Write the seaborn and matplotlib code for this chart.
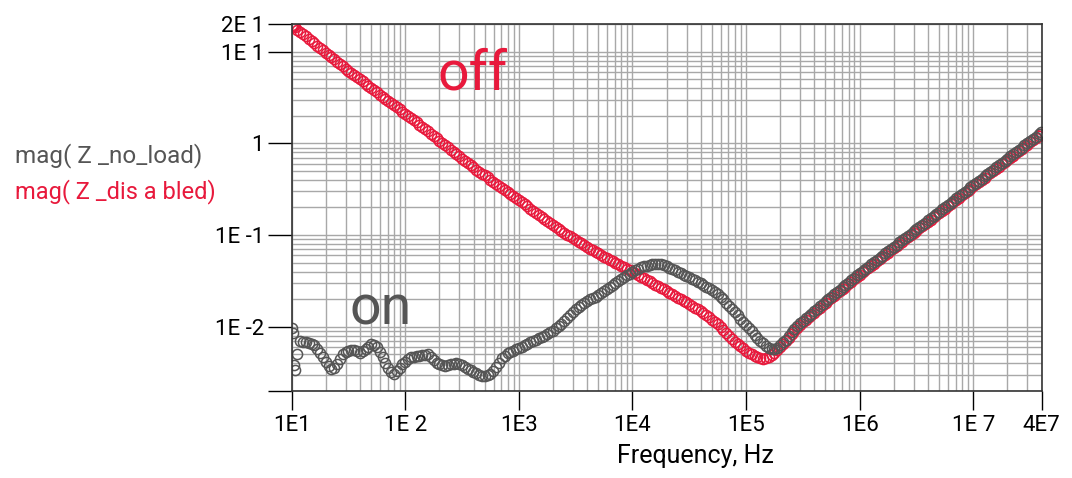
import numpy as np
import pandas as pd
import seaborn as sns
import matplotlib.pyplot as plt
from matplotlib.ticker import LogLocator, NullFormatter

# log10(frequency / Hz) of each sweep point
log_freq = [
    1.000, 1.008, 1.016,
    1.025, 1.050, 1.075, 1.100, 1.125, 1.150, 1.175, 1.200, 1.225, 1.250,
    1.275, 1.300, 1.325, 1.350, 1.375, 1.400, 1.425, 1.450, 1.475, 1.500,
    1.525, 1.550, 1.575, 1.600, 1.625, 1.650, 1.675, 1.700, 1.725, 1.750,
    1.775, 1.800, 1.825, 1.850, 1.875, 1.900, 1.925, 1.950, 1.975, 2.000,
    2.025, 2.050, 2.075, 2.100, 2.125, 2.150, 2.175, 2.200, 2.225, 2.250,
    2.275, 2.300, 2.325, 2.350, 2.375, 2.400, 2.425, 2.450, 2.475, 2.500,
    2.525, 2.550, 2.575, 2.600, 2.625, 2.650, 2.675, 2.700, 2.725, 2.750,
    2.775, 2.800, 2.825, 2.850, 2.875, 2.900, 2.925, 2.950, 2.975, 3.000,
    3.025, 3.050, 3.075, 3.100, 3.125, 3.150, 3.175, 3.200, 3.225, 3.250,
    3.275, 3.300, 3.325, 3.350, 3.375, 3.400, 3.425, 3.450, 3.475, 3.500,
    3.525, 3.550, 3.575, 3.600, 3.625, 3.650, 3.675, 3.700, 3.725, 3.750,
    3.775, 3.800, 3.825, 3.850, 3.875, 3.900, 3.925, 3.950, 3.975, 4.000,
    4.025, 4.050, 4.075, 4.100, 4.125, 4.150, 4.175, 4.200, 4.225, 4.250,
    4.275, 4.300, 4.325, 4.350, 4.375, 4.400, 4.425, 4.450, 4.475, 4.500,
    4.525, 4.550, 4.575, 4.600, 4.625, 4.650, 4.675, 4.700, 4.725, 4.750,
    4.775, 4.800, 4.825, 4.850, 4.875, 4.900, 4.925, 4.950, 4.975, 5.000,
    5.025, 5.050, 5.075, 5.100, 5.125, 5.150, 5.175, 5.200, 5.225, 5.250,
    5.275, 5.300, 5.325, 5.350, 5.375, 5.400, 5.425, 5.450, 5.475, 5.500,
    5.525, 5.550, 5.575, 5.600, 5.625, 5.650, 5.675, 5.700, 5.725, 5.750,
    5.775, 5.800, 5.825, 5.850, 5.875, 5.900, 5.925, 5.950, 5.975, 6.000,
    6.025, 6.050, 6.075, 6.100, 6.125, 6.150, 6.175, 6.200, 6.225, 6.250,
    6.275, 6.300, 6.325, 6.350, 6.375, 6.400, 6.425, 6.450, 6.475, 6.500,
    6.525, 6.550, 6.575, 6.600, 6.625, 6.650, 6.675, 6.700, 6.725, 6.750,
    6.775, 6.800, 6.825, 6.850, 6.875, 6.900, 6.925, 6.950, 6.975, 7.000,
    7.025, 7.050, 7.075, 7.100, 7.125, 7.150, 7.175, 7.200, 7.225, 7.250,
    7.275, 7.300, 7.325, 7.350, 7.375, 7.400, 7.425, 7.450, 7.475, 7.500,
    7.525, 7.550, 7.575, 7.600,
]

# log10(|Z|), "on" state (no load)
log_z_no_load = [
    -2.01, -2.07, -2.42,
    -2.47, -2.30, -2.15, -2.16, -2.165, -2.18, -2.19, -2.20, -2.24, -2.28,
    -2.33, -2.38, -2.43, -2.46, -2.45, -2.41, -2.35, -2.30, -2.27, -2.26,
    -2.25, -2.25, -2.265, -2.28, -2.26, -2.24, -2.215, -2.19, -2.20, -2.22,
    -2.27, -2.33, -2.39, -2.45, -2.49, -2.51, -2.48, -2.45, -2.41, -2.38,
    -2.35, -2.33, -2.325, -2.32, -2.315, -2.31, -2.305, -2.30, -2.33, -2.36,
    -2.39, -2.41, -2.42, -2.43, -2.42, -2.41, -2.40, -2.39, -2.405, -2.42,
    -2.44, -2.46, -2.475, -2.49, -2.505, -2.52, -2.53, -2.54, -2.525, -2.51,
    -2.48, -2.44, -2.39, -2.34, -2.315, -2.29, -2.275, -2.26, -2.245, -2.23,
    -2.215, -2.20, -2.185, -2.17, -2.155, -2.14, -2.125, -2.11, -2.095, -2.08,
    -2.06, -2.04, -2.015, -1.99, -1.965, -1.94, -1.905, -1.87, -1.835, -1.80,
    -1.78, -1.76, -1.74, -1.72, -1.70, -1.685, -1.67, -1.655, -1.632, -1.61,
    -1.585, -1.56, -1.54, -1.52, -1.50, -1.48, -1.46, -1.44, -1.42, -1.40,
    -1.382, -1.365, -1.352, -1.34, -1.332, -1.325, -1.32, -1.315, -1.316, -1.32,
    -1.33, -1.34, -1.355, -1.37, -1.385, -1.40, -1.415, -1.43, -1.445, -1.46,
    -1.475, -1.49, -1.508, -1.525, -1.542, -1.56, -1.578, -1.595, -1.618, -1.64,
    -1.67, -1.70, -1.735, -1.77, -1.805, -1.84, -1.875, -1.91, -1.945, -1.98,
    -2.015, -2.05, -2.085, -2.12, -2.15, -2.18, -2.205, -2.23, -2.24, -2.24,
    -2.225, -2.20, -2.17, -2.14, -2.10, -2.06, -2.025, -1.99, -1.962, -1.935,
    -1.908, -1.88, -1.855, -1.83, -1.802, -1.775, -1.748, -1.72, -1.695, -1.67,
    -1.645, -1.62, -1.595, -1.57, -1.545, -1.52, -1.492, -1.465, -1.44, -1.415,
    -1.391, -1.367, -1.343, -1.319, -1.295, -1.271, -1.247, -1.223, -1.199, -1.175,
    -1.151, -1.127, -1.103, -1.079, -1.055, -1.031, -1.007, -0.983, -0.959, -0.935,
    -0.911, -0.887, -0.863, -0.839, -0.815, -0.791, -0.767, -0.743, -0.719, -0.695,
    -0.671, -0.647, -0.623, -0.599, -0.575, -0.551, -0.527, -0.503, -0.479, -0.455,
    -0.431, -0.407, -0.383, -0.359, -0.335, -0.311, -0.287, -0.263, -0.239, -0.215,
    -0.191, -0.167, -0.143, -0.119, -0.095, -0.071, -0.047, -0.023, 0.001, 0.025,
    0.049, 0.073, 0.097, 0.121,
]

# log10(|Z|), "off" state (disabled)
log_z_disabled = [
    1.29, 1.28, 1.275,
    1.265, 1.24, 1.215, 1.19, 1.165, 1.14, 1.115, 1.09, 1.065, 1.04,
    1.015, 0.99, 0.965, 0.94, 0.915, 0.89, 0.865, 0.84, 0.815, 0.79,
    0.768, 0.745, 0.722, 0.70, 0.675, 0.65, 0.625, 0.60, 0.578, 0.555,
    0.532, 0.51, 0.485, 0.46, 0.438, 0.415, 0.392, 0.37, 0.345, 0.32,
    0.298, 0.275, 0.252, 0.23, 0.205, 0.18, 0.155, 0.13, 0.105, 0.08,
    0.055, 0.03, 0.005, -0.02, -0.045, -0.07, -0.095, -0.12, -0.142, -0.165,
    -0.188, -0.21, -0.235, -0.26, -0.285, -0.31, -0.33, -0.35, -0.372, -0.395,
    -0.418, -0.44, -0.462, -0.485, -0.508, -0.53, -0.552, -0.575, -0.598, -0.62,
    -0.642, -0.665, -0.688, -0.71, -0.732, -0.755, -0.778, -0.80, -0.822, -0.845,
    -0.868, -0.89, -0.912, -0.935, -0.955, -0.975, -0.995, -1.015, -1.035, -1.055,
    -1.072, -1.09, -1.11, -1.13, -1.148, -1.165, -1.182, -1.20, -1.218, -1.235,
    -1.252, -1.27, -1.285, -1.30, -1.318, -1.335, -1.352, -1.37, -1.385, -1.40,
    -1.418, -1.435, -1.452, -1.47, -1.488, -1.505, -1.522, -1.54, -1.558, -1.575,
    -1.592, -1.61, -1.628, -1.645, -1.662, -1.68, -1.698, -1.715, -1.732, -1.75,
    -1.77, -1.79, -1.81, -1.83, -1.85, -1.87, -1.895, -1.92, -1.945, -1.97,
    -2.0, -2.03, -2.065, -2.10, -2.13, -2.16, -2.185, -2.21, -2.235, -2.26,
    -2.28, -2.30, -2.318, -2.33, -2.34, -2.345, -2.338, -2.325, -2.305, -2.28,
    -2.25, -2.22, -2.188, -2.155, -2.118, -2.08, -2.045, -2.01, -1.98, -1.95,
    -1.922, -1.895, -1.87, -1.845, -1.818, -1.79, -1.762, -1.735, -1.71, -1.685,
    -1.66, -1.635, -1.61, -1.585, -1.56, -1.535, -1.508, -1.48, -1.455, -1.43,
    -1.405, -1.38, -1.358, -1.335, -1.31, -1.285, -1.262, -1.24, -1.215, -1.19,
    -1.165, -1.14, -1.118, -1.095, -1.07, -1.045, -1.022, -1.0, -0.975, -0.95,
    -0.925, -0.9, -0.878, -0.855, -0.83, -0.805, -0.782, -0.76, -0.735, -0.71,
    -0.685, -0.66, -0.638, -0.615, -0.59, -0.565, -0.542, -0.52, -0.495, -0.47,
    -0.445, -0.42, -0.398, -0.375, -0.35, -0.325, -0.302, -0.28, -0.255, -0.23,
    -0.205, -0.18, -0.158, -0.135, -0.11, -0.085, -0.062, -0.04, -0.015, 0.01,
    0.035, 0.06, 0.082, 0.105,
]

x_ticks = [1e1, 1e2, 1e3, 1e4, 1e5, 1e6, 1e7, 4e7]
x_tick_labels = ["1E1", "1E 2", "1E3", "1E4", "1E5", "1E6", "1E 7", "4E7"]
y_ticks = [2e-3, 1e-2, 1e-1, 1, 10, 20]
y_tick_labels = ["", "1E -2", "1E -1", "1", "1E 1", "2E 1"]

red = "#e8193c"
grey = "#555555"

sns.set_style("white")
plt.rcParams["font.family"] = ["Roboto", "DejaVu Sans"]

df = pd.DataFrame({
    "freq": 10 ** np.array(log_freq),
    "no_load": 10 ** np.array(log_z_no_load),
    "disabled": 10 ** np.array(log_z_disabled),
})

fig = plt.figure(figsize=(10.72, 4.78), dpi=100)
ax = fig.add_axes([0.2721, 0.182, 0.6996, 0.7678])
ax.set_xscale("log")
ax.set_yscale("log")

marker_kw = dict(linestyle="", marker="o", markersize=7.3, markerfacecolor="none",
                 markeredgewidth=1.1, estimator=None, sort=False, legend=False)
sns.lineplot(data=df, x="freq", y="disabled", ax=ax, color=red,
             markeredgecolor=red, **marker_kw)
sns.lineplot(data=df, x="freq", y="no_load", ax=ax, color=grey,
             markeredgecolor=grey, **marker_kw)

ax.set_xlim(10, 4e7)
ax.set_ylim(2e-3, 20)

# log grid
subs = (2, 3, 4, 5, 6, 7, 8, 9)
ax.xaxis.set_minor_locator(LogLocator(base=10, subs=subs, numticks=100))
ax.yaxis.set_minor_locator(LogLocator(base=10, subs=subs, numticks=100))
ax.xaxis.set_minor_formatter(NullFormatter())
ax.yaxis.set_minor_formatter(NullFormatter())
ax.set_xticks(x_ticks, x_tick_labels)
ax.set_yticks(y_ticks, y_tick_labels)
ax.grid(True, which="both", color="#a8a8a8", linewidth=1.0)
ax.set_axisbelow(True)

ax.tick_params(axis="y", which="major", length=17, width=1, color="black",
               labelcolor="black", labelsize=16, pad=3, direction="out", left=True)
ax.tick_params(axis="x", which="major", length=14, width=1, color="black",
               labelcolor="black", labelsize=16, pad=3, direction="out", bottom=True)
ax.tick_params(which="minor", length=0)
for s in ax.spines.values():
    s.set_color("#333333")
    s.set_linewidth(1.2)

ax.set_xlabel("")
ax.set_ylabel("")

# state annotations
ax.text(191, 3.83, "off", color=red, fontsize=40, va="baseline", ha="left")
ax.text(32.6, 0.0105, "on", color=grey, fontsize=40, va="baseline", ha="left")

# series names on the left
fig.text(15 / 1072, 1 - 162 / 478, "mag( Z _no_load)", color=grey,
         fontsize=17.5, va="baseline", ha="left")
fig.text(15 / 1072, 1 - 198 / 478, "mag( Z _dis a bled)", color=red,
         fontsize=17, va="baseline", ha="left")

fig.text(695 / 1072, 1 - 463 / 478, "Frequency, Hz", color="black",
         fontsize=18, va="baseline", ha="center")

fig.savefig("out.png", dpi=100)
